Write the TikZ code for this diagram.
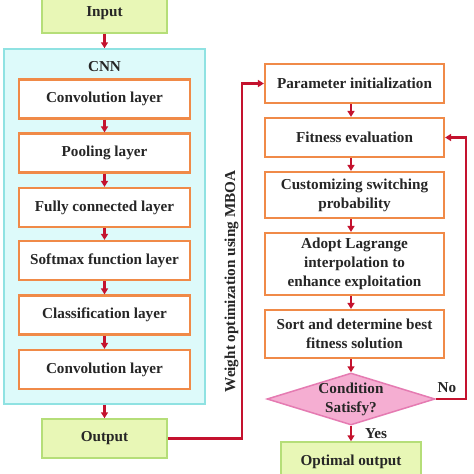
\documentclass[tikz,border=0pt]{standalone}
\usepackage{fontspec}
\setmainfont{Liberation Serif}
\usetikzlibrary{shapes.geometric,arrows.meta}
\definecolor{gfill}{HTML}{E8F7B6}
\definecolor{gline}{HTML}{B5DE78}
\definecolor{cfill}{HTML}{DDFAFA}
\definecolor{cline}{HTML}{8FE2E2}
\definecolor{oline}{HTML}{F08A48}
\definecolor{rline}{HTML}{C4122E}
\definecolor{pfill}{HTML}{F5AED2}
\definecolor{pline}{HTML}{E57BB2}
\begin{document}
\begin{tikzpicture}[x=1pt,y=-1pt,
  every node/.style={font=\fontsize{15.2}{19}\selectfont\bfseries, text=black!85, inner sep=0pt},
  gbox/.style={draw=gline, fill=gfill, line width=1.5pt, minimum width=125pt, minimum height=39pt},
  lbox/.style={draw=oline, fill=white, line width=2.2pt, minimum width=171pt, minimum height=39pt, align=center},
  rbox/.style={draw=oline, fill=white, line width=2.2pt, minimum width=179pt, align=center},
  arr/.style={draw=rline, line width=2.2pt, -{Triangle[length=6pt,width=7pt]}},
  ln/.style={draw=rline, line width=2.2pt}]
\useasboundingbox (0,0) rectangle (474,474);
\clip (0,0) rectangle (474,474);
\fill[white] (0,0) rectangle (474,474);
% left column
\node[gbox] (input) at (104.5,13.5) {Input};
\node[draw=cline, fill=cfill, line width=1.5pt, minimum width=201pt, minimum height=355pt] (cnn) at (104.5,226.5) {};
\node (cnnlbl) at (104.5,67) {CNN};
\node[lbox] (l1) at (104.5,99) {Convolution layer};
\node[lbox] (l2) at (104.5,153) {Pooling layer};
\node[lbox] (l3) at (104.5,207.5) {Fully connected layer};
\node[lbox] (l4) at (104.5,260.5) {Softmax function layer};
\node[lbox] (l5) at (104.5,315) {Classification layer};
\node[lbox] (l6) at (104.5,369.5) {Convolution layer};
\node[gbox] (output) at (104.5,438.5) {Output};
\draw[arr] (input.south) -- (cnn.north);
\draw[arr] (l1.south) -- (l2.north);
\draw[arr] (l2.south) -- (l3.north);
\draw[arr] (l3.south) -- (l4.north);
\draw[arr] (l4.south) -- (l5.north);
\draw[arr] (l5.south) -- (l6.north);
\draw[arr] (cnn.south) -- (output.north);
% middle label
\node[rotate=90] (wlbl) at (231.5,281.5) {Weight optimization using MBOA};
% right column
\node[rbox, minimum height=39pt] (param) at (354.5,83.5) {Parameter initialization};
\node[rbox, minimum height=39pt] (fit) at (354.5,137.5) {Fitness evaluation};
\node[rbox, minimum height=46pt] (cust) at (354.5,195) {Customizing switching\\probability};
\node[rbox, minimum height=62pt] (adopt) at (354.5,264) {Adopt Lagrange\\interpolation to\\enhance exploitation};
\node[rbox, minimum height=48pt] (sort) at (354.5,334) {Sort and determine best\\fitness solution};
\node[diamond, draw=pline, fill=pfill, line width=1.5pt, minimum width=168pt, minimum height=52pt] (dia) at (351,399) {};
\node[align=center] (dtext) at (dia.center) {Condition\\Satisfy?};
\node[draw=gline, fill=gfill, line width=1.5pt, minimum width=140pt, minimum height=40pt] (opt) at (351,462) {Optimal output};
\coordinate (lx) at (242,0);
\coordinate (rx) at (466,0);
\draw[arr] (param.south -| dia.north) -- (fit.north -| dia.north);
\draw[arr] (fit.south -| dia.north) -- (cust.north -| dia.north);
\draw[arr] (cust.south -| dia.north) -- (adopt.north -| dia.north);
\draw[arr] (adopt.south -| dia.north) -- (sort.north -| dia.north);
\draw[arr] (sort.south -| dia.north) -- (dia.north);
\draw[arr] (dia.south) -- (opt.north);
\draw[arr] (output.east) -- (output.east -| lx) |- (param.west);
\draw[arr] (dia.east) -- (dia.east -| rx) |- (fit.east);
\node (yes) at (376,434) {Yes};
\node (no) at (447,388) {No};
\end{tikzpicture}
\end{document}
